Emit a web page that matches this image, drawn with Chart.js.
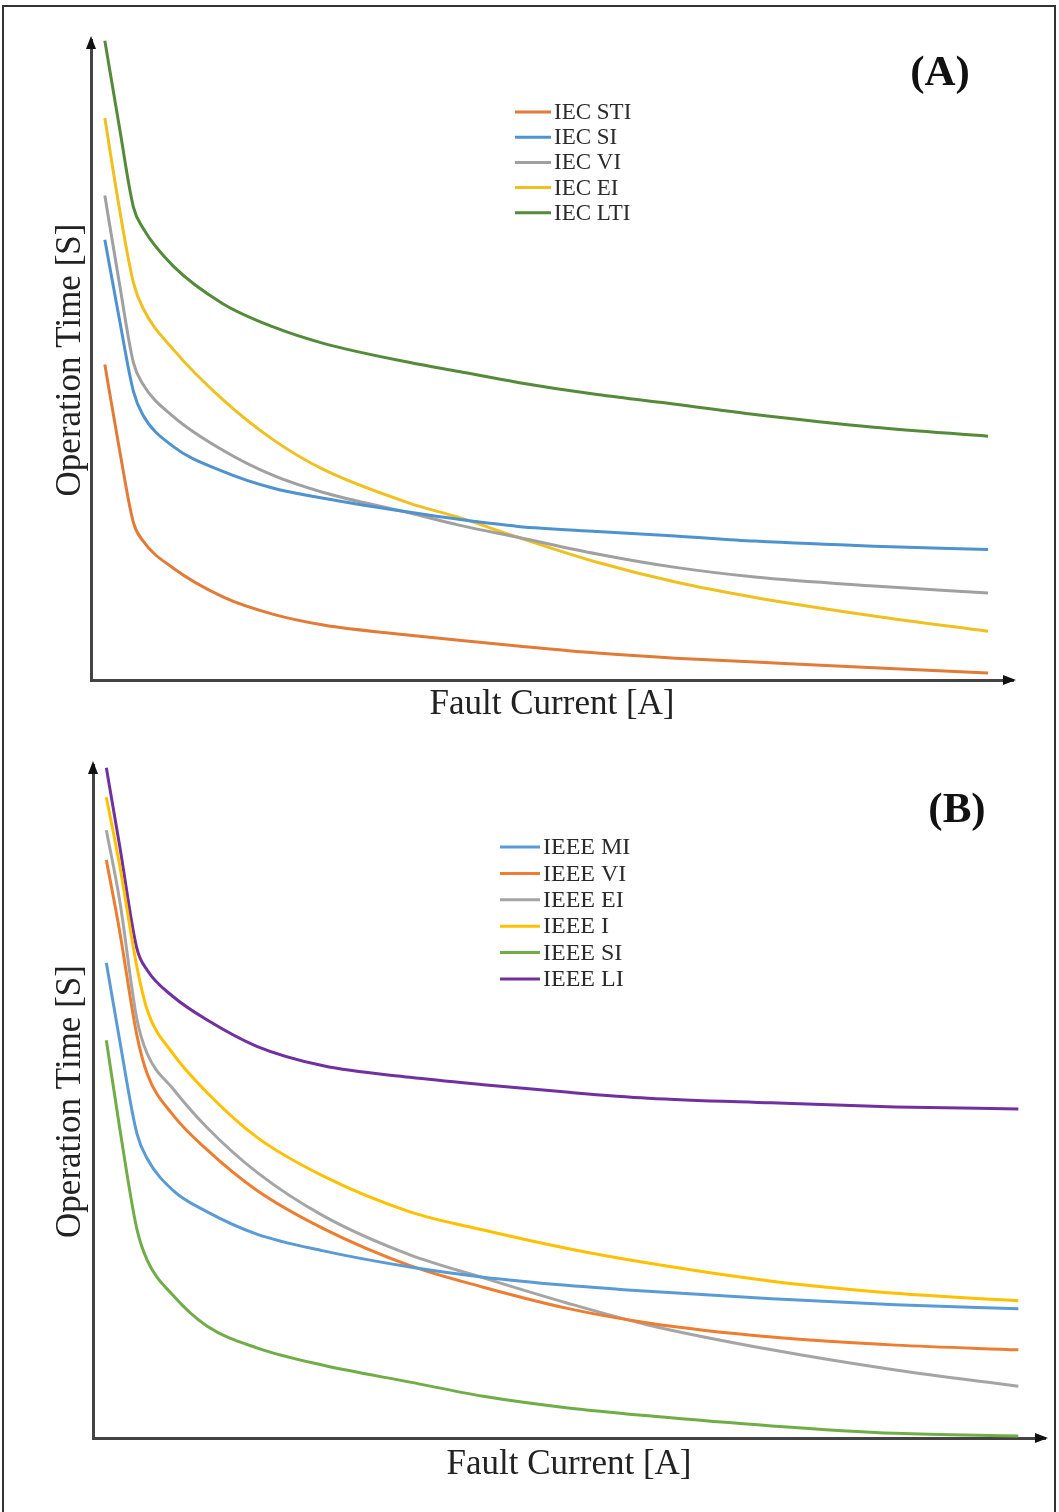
<!DOCTYPE html>
<html>
<head>
<meta charset="utf-8">
<script src="https://cdn.jsdelivr.net/npm/chart.js@4.4.0/dist/chart.umd.min.js"></script>
<style>
  body { margin: 0; background: #fff; }
  #page { position: relative; width: 1059px; height: 1512px; overflow: hidden; background: #fff; }
  #frame { position: absolute; left: 2px; top: 5px; width: 1050px; height: 1530px; border: 2px solid #333; }
  canvas { position: absolute; left: 0; }
  #chartA { top: 0; }
  #chartB { top: 745px; }
</style>
</head>
<body>
<div id="page">
  <div id="frame"></div>
  <canvas id="chartA" width="1059" height="740"></canvas>
  <canvas id="chartB" width="1059" height="767"></canvas>
</div>
<script>
// === Panel A: IEC curves (x = fault current, y = operation time, relative units) ===
const currentA = [1.5, 3.1, 4.6, 5.6, 8.9, 14.3, 19.7, 25.2, 34.6, 39.9, 46.3, 54.9, 63.4, 72.0, 84.9, 97.3];
const iecLabels = ["IEC STI", "IEC SI", "IEC VI", "IEC EI", "IEC LTI"];
const iecSTI = [49.3, 35.9, 24.6, 21.8, 17.5, 13.0, 10.3, 8.6, 7.0, 6.2, 5.3, 4.2, 3.4, 2.8, 1.9, 1.1];
const iecSI  = [68.8, 56.2, 45.1, 41.5, 36.5, 32.6, 30.0, 28.4, 26.2, 25.1, 24.0, 23.2, 22.5, 21.7, 20.9, 20.4];
const iecVI  = [75.7, 61.8, 49.6, 46.3, 41.2, 35.9, 32.0, 29.3, 26.1, 24.2, 22.3, 19.7, 17.6, 16.1, 14.7, 13.6];
const iecEI  = [87.8, 73.5, 62.1, 58.2, 51.7, 43.8, 37.6, 32.9, 27.6, 25.4, 22.3, 18.4, 15.3, 12.9, 10.0, 7.6];
const iecLTI = [99.9, 86.2, 73.9, 70.7, 64.7, 58.8, 55.2, 52.6, 49.6, 48.2, 46.5, 44.6, 43.1, 41.5, 39.5, 38.1];

// === Panel B: IEEE curves ===
const currentB = [1.4, 2.8, 4.6, 5.7, 8.4, 12.0, 17.2, 24.2, 33.3, 41.0, 49.7, 58.3, 71.3, 84.3, 97.2];
const ieeeLabels = ["IEEE MI", "IEEE VI", "IEEE EI", "IEEE I", "IEEE SI", "IEEE LI"];
const ieeeMI = [70.6, 59.1, 45.3, 41.5, 36.8, 33.6, 30.3, 27.8, 25.4, 23.9, 22.7, 21.8, 20.7, 19.8, 19.2];
const ieeeVI = [85.9, 75.3, 59.9, 54.1, 48.0, 42.8, 36.8, 31.1, 25.6, 22.4, 19.3, 17.1, 15.0, 13.8, 13.1];
const ieeeEI = [90.3, 79.9, 62.3, 57.1, 51.9, 46.1, 39.5, 33.0, 27.2, 23.8, 20.1, 16.8, 13.1, 10.1, 7.7];
const ieeeI  = [95.2, 85.1, 70.1, 63.6, 57.1, 51.3, 44.7, 38.9, 33.6, 30.9, 28.2, 26.0, 23.3, 21.5, 20.4];
const ieeeSI = [59.1, 46.1, 31.1, 26.4, 21.2, 16.6, 13.4, 10.8, 8.3, 6.2, 4.5, 3.3, 1.8, 0.7, 0.3];
const ieeeLI = [99.6, 88.0, 72.8, 69.5, 65.6, 62.1, 58.2, 55.3, 53.6, 52.5, 51.4, 50.5, 49.8, 49.2, 48.9];

const iecColors = ["#E27B37", "#4E93CF", "#A0A0A0", "#F0C020", "#548A3A"];
const ieeeColors = ["#5B9BD5", "#ED7D31", "#A5A5A5", "#FFC000", "#70AD47", "#7030A0"];

const serif = "'Liberation Serif', 'Times New Roman', serif";

// arrows, in-plot legend and panel tag
const decorations = {
    id: "decorations",
    afterDraw(chart, args, opts) {
        const ctx = chart.ctx;
        const { left, right, top, bottom } = chart.chartArea;
        ctx.save();
        ctx.fillStyle = "#111";
        ctx.beginPath();
        ctx.moveTo(left, top - 4);
        ctx.lineTo(left - 5, top + 9);
        ctx.lineTo(left + 5, top + 9);
        ctx.fill();
        ctx.beginPath();
        ctx.moveTo(right + 3, bottom);
        ctx.lineTo(right - 10, bottom - 5);
        ctx.lineTo(right - 10, bottom + 5);
        ctx.fill();

        ctx.font = opts.legendFont;
        ctx.textBaseline = "middle";
        ctx.textAlign = "left";
        chart.data.datasets.forEach((ds, i) => {
            const y = opts.legendY + i * opts.legendGap;
            ctx.strokeStyle = ds.borderColor;
            ctx.lineWidth = 3;
            ctx.beginPath();
            ctx.moveTo(opts.legendX, y);
            ctx.lineTo(opts.legendX + opts.legendLine, y);
            ctx.stroke();
            ctx.fillStyle = "#2a2a2a";
            ctx.fillText(ds.label, opts.legendX + opts.legendLine + 3, y + 1);
        });

        ctx.font = opts.tagFont;
        ctx.textAlign = "center";
        ctx.fillStyle = "#111";
        ctx.fillText(opts.tag, opts.tagX, opts.tagY);
        ctx.restore();
    }
};

function buildChart(canvasId, xs, labels, series, colors, layout, deco) {
    const datasets = series.map((vals, i) => ({
        label: labels[i],
        data: xs.map((x, j) => ({ x: x, y: vals[j] })),
        borderColor: colors[i],
        backgroundColor: colors[i],
        borderWidth: 3,
        pointRadius: 0,
        fill: false,
        cubicInterpolationMode: "monotone"
    }));

    return new Chart(document.getElementById(canvasId), {
        type: "line",
        data: { datasets: datasets },
        options: {
            responsive: false,
            animation: false,
            layout: { padding: layout.padding },
            plugins: {
                legend: { display: false },
                tooltip: { enabled: false },
                decorations: deco
            },
            scales: {
                x: {
                    type: "linear",
                    min: 0,
                    max: 100,
                    grid: { display: false },
                    ticks: { display: false },
                    border: { display: true, color: "#444", width: 3 },
                    title: {
                        display: true,
                        text: "Fault Current [A]",
                        color: "#222",
                        font: { family: serif, size: 35 },
                        padding: { top: 0, bottom: 0 }
                    },
                    afterFit: s => { s.height = layout.xAxisH; }
                },
                y: {
                    min: 0,
                    max: 100,
                    grid: { display: false },
                    ticks: { display: false },
                    border: { display: true, color: "#444", width: 3 },
                    title: {
                        display: true,
                        text: "Operation Time [S]",
                        color: "#222",
                        font: { family: serif, size: 35 },
                        padding: { top: layout.yTitleOffset, bottom: 0 }
                    },
                    afterFit: s => { s.width = layout.yAxisW; }
                }
            }
        },
        plugins: [decorations]
    });
}

buildChart("chartA", currentA, iecLabels,
    [iecSTI, iecSI, iecVI, iecEI, iecLTI], iecColors,
    { padding: { top: 40, left: 0, right: 46, bottom: 14 }, xAxisH: 46, yAxisW: 91, yTitleOffset: 50 },
    { legendX: 515, legendY: 112, legendGap: 25.2, legendLine: 36, legendFont: "23px " + serif,
      tag: "(A)", tagX: 940, tagY: 74, tagFont: "bold 43px " + serif });

buildChart("chartB", currentB, ieeeLabels,
    [ieeeMI, ieeeVI, ieeeEI, ieeeI, ieeeSI, ieeeLI], ieeeColors,
    { padding: { top: 20, left: 0, right: 14, bottom: 26 }, xAxisH: 48, yAxisW: 93, yTitleOffset: 50 },
    { legendX: 500, legendY: 102, legendGap: 26.4, legendLine: 40, legendFont: "24px " + serif,
      tag: "(B)", tagX: 957, tagY: 66, tagFont: "bold 43px " + serif });
</script>
</body>
</html>
